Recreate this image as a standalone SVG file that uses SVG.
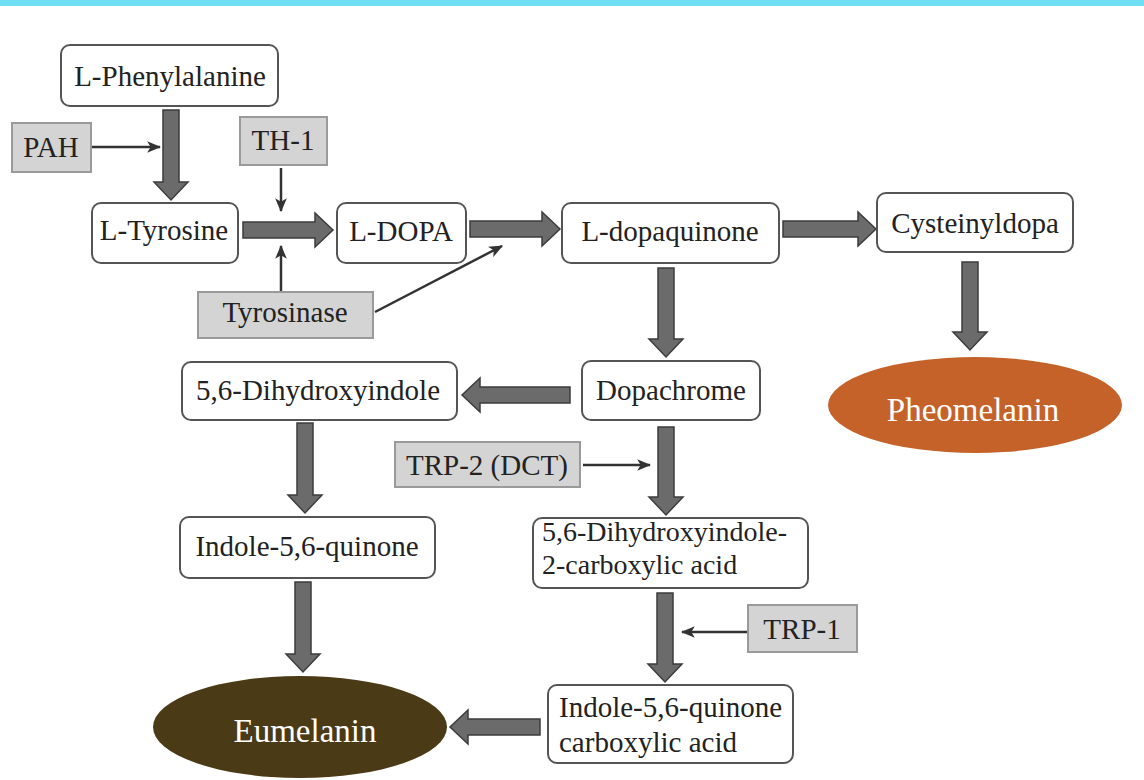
<svg xmlns="http://www.w3.org/2000/svg" width="1144" height="780" viewBox="0 0 1144 780">
<style>
.node rect{fill:#fff;stroke:#555;stroke-width:2}
.enz rect{fill:#d4d4d4;stroke:#9a9a9a;stroke-width:2}
.t{font-size:29px;fill:#222}
.s{font-size:28px}
.c{text-anchor:middle}
.w{fill:#fff;font-size:33px}
.fat{fill:#6b6b6b;stroke:#3d3d3d;stroke-width:1.5;stroke-linejoin:miter}
.thin{stroke:#333;stroke-width:2.5;fill:none;marker-end:url(#ah)}
</style>
<defs>
<marker id="ah" viewBox="0 0 12 10" refX="11" refY="5" markerWidth="14" markerHeight="12" markerUnits="userSpaceOnUse" orient="auto">
<path d="M0,0 L12,5 L0,10 L3,5 Z" fill="#333"/>
</marker>
</defs>
<rect x="0" y="0" width="1144" height="780" fill="#fff"/>
<rect x="0" y="0" width="1144" height="6" fill="#6fdff4"/>

<g id="connectors">
<path class="fat" d="M163,110 L179,110 L179,182 L188,182 L171,200 L154,182 L163,182 Z"/>
<path class="fat" d="M658,268 L674,268 L674,339 L683,339 L666,357 L649,339 L658,339 Z"/>
<path class="fat" d="M962,262 L978,262 L978,332 L987,332 L970,350 L953,332 L962,332 Z"/>
<path class="fat" d="M297,423 L313,423 L313,495 L322,495 L305,513 L288,495 L297,495 Z"/>
<path class="fat" d="M658,427 L674,427 L674,497 L683,497 L666,515 L649,497 L658,497 Z"/>
<path class="fat" d="M295,582 L311,582 L311,654 L320,654 L303,672 L286,654 L295,654 Z"/>
<path class="fat" d="M657,593 L673,593 L673,664 L682,664 L665,682 L648,664 L657,664 Z"/>
<path class="fat" d="M243,222 L315,222 L315,213 L333,230 L315,247 L315,238 L243,238 Z"/>
<path class="fat" d="M470,221 L542,221 L542,212 L560,229 L542,246 L542,237 L470,237 Z"/>
<path class="fat" d="M783,221 L858,221 L858,212 L876,229 L858,246 L858,237 L783,237 Z"/>
<path class="fat" d="M570,387 L480,387 L480,378 L462,395 L480,412 L480,403 L570,403 Z"/>
<path class="fat" d="M540,719 L468,719 L468,710 L450,727 L468,744 L468,735 L540,735 Z"/>
<line class="thin" x1="92" y1="147" x2="160" y2="147"/>
<line class="thin" x1="281" y1="168" x2="281" y2="211"/>
<line class="thin" x1="281" y1="292" x2="281" y2="246"/>
<line class="thin" x1="375" y1="312" x2="502" y2="246"/>
<line class="thin" x1="583" y1="465" x2="650" y2="465"/>
<line class="thin" x1="748" y1="632" x2="682" y2="632"/>
</g>

<g font-family="'Liberation Serif', 'DejaVu Serif', 'Times New Roman', serif">
<g id="n-phe" class="node"><rect x="61" y="45" width="217" height="61" rx="9"/><text class="t c" x="170" y="86">L-Phenylalanine</text></g>
<g id="n-tyr" class="node"><rect x="92" y="203" width="146" height="60" rx="9"/><text class="t c" x="164" y="240">L-Tyrosine</text></g>
<g id="n-dopa" class="node"><rect x="337" y="203" width="129" height="60" rx="9"/><text class="t c" x="401" y="241">L-DOPA</text></g>
<g id="n-dq" class="node"><rect x="562" y="203" width="217" height="60" rx="9"/><text class="t c" x="670" y="241">L-dopaquinone</text></g>
<g id="n-cys" class="node"><rect x="877" y="193" width="196" height="59" rx="9"/><text class="t c" x="975" y="233">Cysteinyldopa</text></g>
<g id="n-dc" class="node"><rect x="582" y="361" width="178" height="59" rx="9"/><text class="t c" x="671" y="400">Dopachrome</text></g>
<g id="n-dhi" class="node"><rect x="182" y="362" width="275" height="58" rx="9"/><text class="t c" x="318" y="400">5,6-Dihydroxyindole</text></g>
<g id="n-iq" class="node"><rect x="180" y="517" width="255" height="61" rx="9"/><text class="t c" x="307" y="556">Indole-5,6-quinone</text></g>
<g id="n-dhica" class="node"><rect x="533" y="518" width="275" height="70" rx="9"/><text class="t s" x="542" y="541">5,6-Dihydroxyindole-</text><text class="t s" x="542" y="574">2-carboxylic acid</text></g>
<g id="n-iqca" class="node"><rect x="548" y="685" width="245" height="78" rx="9"/><text class="t" x="559" y="717">Indole-5,6-quinone</text><text class="t" x="559" y="752">carboxylic acid</text></g>

<g id="e-pah" class="enz"><rect x="12" y="123" width="79" height="49"/><text class="t c" x="51" y="157">PAH</text></g>
<g id="e-th1" class="enz"><rect x="240" y="117" width="87" height="48"/><text class="t c" x="283" y="150">TH-1</text></g>
<g id="e-tyrase" class="enz"><rect x="198" y="292" width="175" height="46"/><text class="t c" x="285" y="322">Tyrosinase</text></g>
<g id="e-trp2" class="enz"><rect x="395" y="442" width="185" height="45"/><text class="t c" x="487" y="475">TRP-2 (DCT)</text></g>
<g id="e-trp1" class="enz"><rect x="748" y="605" width="109" height="47"/><text class="t c" x="802" y="639">TRP-1</text></g>

<g id="pheo"><ellipse cx="975" cy="405" rx="147" ry="48" fill="#c5622a"/><text class="t c w" x="973" y="421">Pheomelanin</text></g>
<g id="eu"><ellipse cx="300" cy="727" rx="147" ry="51" fill="#4a3a15"/><text class="t c w" x="305" y="742">Eumelanin</text></g>
</g>
</svg>
